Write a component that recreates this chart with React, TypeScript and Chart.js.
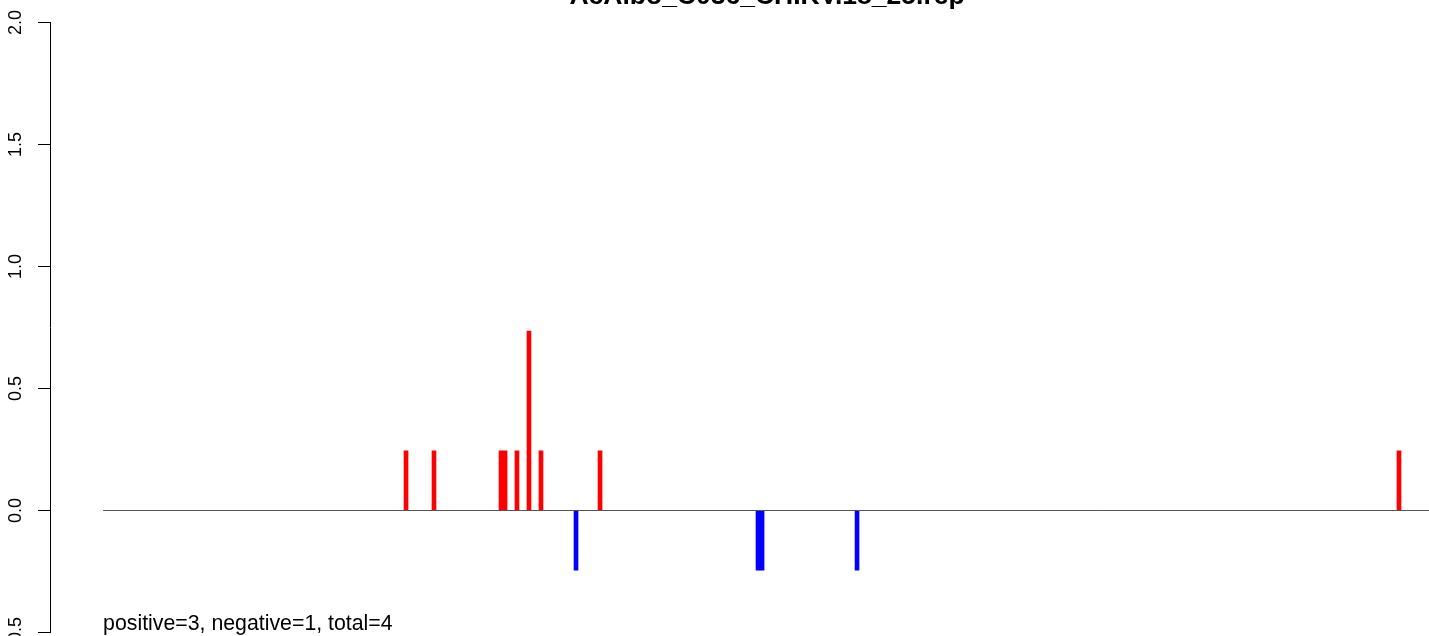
import { useEffect, useRef } from "react";
import { Chart, registerables } from "chart.js";

Chart.register(...registerables);

// ---- data ----
const TITLE = "AcAlbo_C036_CHIKV.18_25.rep";
const GENOME_LENGTH = 11826;
const baselineX = [0, GENOME_LENGTH];
const positivePositions = [2698, 2947, 3544, 3580, 3686, 3793, 3900, 4426, 11542];
const positiveValues = [0.245, 0.245, 0.245, 0.245, 0.245, 0.735, 0.245, 0.245, 0.245];
const negativePositions = [4212, 5833, 5869, 6715];
const negativeValues = [-0.245, -0.245, -0.245, -0.245];
const yTicks = [-0.5, 0.0, 0.5, 1.0, 1.5, 2.0];
const summaryText = "positive=3, negative=1, total=4";

const FONT = '"Liberation Sans", Arial, Helvetica, sans-serif';

export default function App() {
  const ref = useRef<HTMLCanvasElement>(null);

  useEffect(() => {
    const canvas = ref.current;
    if (!canvas) return;

    const summaryPlugin = {
      id: "summaryText",
      afterDraw(chart: any) {
        const ctx = chart.ctx;
        const xs = chart.scales.x;
        ctx.save();
        ctx.font = `21.3px ${FONT}`;
        ctx.fillStyle = "#000";
        ctx.textAlign = "left";
        ctx.textBaseline = "alphabetic";
        ctx.fillText(summaryText, xs.getPixelForValue(0), chart.chartArea.bottom - 2.5);
        ctx.restore();
      },
    };

    const chart = new Chart(canvas, {
      type: "bar",
      data: {
        datasets: [
          {
            type: "line",
            data: baselineX.map((x) => ({ x, y: 0 })),
            borderColor: "#555555",
            borderWidth: 1,
            pointRadius: 0,
            fill: false,
            order: 0,
          } as any,
          {
            type: "bar",
            data: positivePositions.map((x, i) => ({ x, y: positiveValues[i] })),
            backgroundColor: "#ff0000",
            borderWidth: 0,
            barThickness: 4,
            grouped: false,
            order: 1,
          } as any,
          {
            type: "bar",
            data: negativePositions.map((x, i) => ({ x, y: negativeValues[i] })),
            backgroundColor: "#0000ff",
            borderWidth: 0,
            barThickness: 4,
            grouped: false,
            order: 1,
          } as any,
        ],
      },
      options: {
        animation: false,
        responsive: false,
        layout: { padding: { left: 0, right: 16, top: 0, bottom: 43.5 } },
        plugins: {
          legend: { display: false },
          tooltip: { enabled: false },
          title: {
            display: true,
            text: TITLE,
            color: "#000",
            fullSize: false,
            align: "center",
            font: { family: FONT, size: 26.5, weight: "bold" },
            padding: { top: 20.9, bottom: 9.8 },
          },
        },
        scales: {
          x: {
            type: "linear",
            display: false,
            offset: false,
            min: -0.04 * GENOME_LENGTH,
            max: 1.04 * GENOME_LENGTH,
          },
          y: {
            type: "linear",
            position: "left",
            min: -0.5,
            max: 2.0,
            afterBuildTicks: (s: any) => {
              s.ticks = yTicks.map((v) => ({ value: v }));
            },
            afterFit: (s: any) => {
              s.width = 50;
            },
            ticks: {
              minRotation: 90,
              maxRotation: 90,
              crossAlign: "center",
              padding: 6,
              color: "#000",
              font: { family: FONT, size: 18 },
              callback: (v: any) => Number(v).toFixed(1),
            },
            grid: {
              drawOnChartArea: false,
              drawTicks: true,
              tickLength: 12,
              color: "#000",
              lineWidth: 1,
            },
            border: { display: true, color: "#000", width: 1 },
          },
        },
      } as any,
      plugins: [summaryPlugin],
    });

    return () => chart.destroy();
  }, []);

  return (
    <div
      style={{
        position: "fixed",
        left: 0,
        top: 0,
        width: 1429,
        height: 636,
        overflow: "hidden",
        background: "#fff",
      }}
    >
      <canvas
        ref={ref}
        width={1500}
        height={716}
        style={{ position: "absolute", left: 0, top: -40, width: 1500, height: 716 }}
      />
    </div>
  );
}
